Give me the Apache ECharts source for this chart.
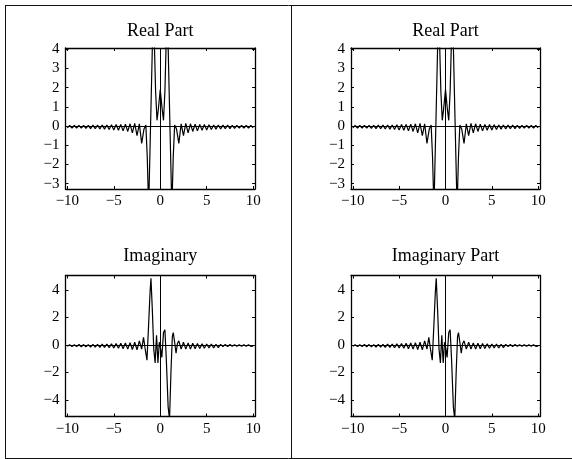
<!DOCTYPE html>
<html>
<head>
<meta charset="utf-8">
<script src="https://cdn.jsdelivr.net/npm/echarts@6/dist/echarts.min.js"></script>
<style>html,body{margin:0;padding:0;background:#fff}#c{width:572px;height:459px}</style>
</head>
<body>
<div id="c"></div>
<script>
// ---- data ----
const realX = [-10,-9.75,-9.5,-9.25,-9,-8.75,-8.5,-8.25,-8,-7.75,-7.5,-7.25,-7,-6.75,-6.5,-6.25,-6,-5.75,-5.5,-5.25,-5,-4.75,-4.5,-4.25,-4,-3.75,-3.5,-3.25,-3,-2.75,-2.5,-2.25,-2,-1.75,-1.55,-1.4,-1.25,-1.1,-0.95,-0.8,-0.65,-0.5,-0.35,-0.2,0,0.2,0.35,0.5,0.65,0.8,0.95,1.1,1.25,1.4,1.55,1.75,2,2.25,2.5,2.75,3,3.25,3.5,3.75,4,4.25,4.5,4.75,5,5.25,5.5,5.75,6,6.25,6.5,6.75,7,7.25,7.5,7.75,8,8.25,8.5,8.75,9,9.25,9.5,9.75,10];
const realY = [-0.09,0.03,-0.1,0.03,-0.1,0.04,-0.11,0.04,-0.12,0.04,-0.13,0.05,-0.14,0.05,-0.15,0.06,-0.16,0.06,-0.18,0.07,-0.2,0.08,-0.22,0.09,-0.25,0.1,-0.28,0.12,-0.35,0.14,-0.5,0.12,-0.9,-0.15,0.05,-1.6,-4.3,-1.2,2.0,5.2,4.6,1.8,0.3,0.9,1.9,0.9,0.3,1.8,4.6,5.2,2.0,-1.2,-4.3,-1.6,0.05,-0.15,-0.9,0.12,-0.5,0.14,-0.35,0.12,-0.28,0.1,-0.25,0.09,-0.22,0.08,-0.2,0.07,-0.18,0.06,-0.16,0.06,-0.15,0.05,-0.14,0.05,-0.13,0.04,-0.12,0.04,-0.11,0.04,-0.1,0.03,-0.1,0.03,-0.09];

const imagX = [-10,-9.75,-9.5,-9.25,-9,-8.75,-8.5,-8.25,-8,-7.75,-7.5,-7.25,-7,-6.75,-6.5,-6.25,-6,-5.75,-5.5,-5.25,-5,-4.75,-4.5,-4.25,-4,-3.75,-3.5,-3.25,-3,-2.75,-2.5,-2.25,-2,-1.8,-1.6,-1.43,-1.25,-1.1,-1,-0.85,-0.7,-0.55,-0.4,-0.25,-0.1,0.05,0.17,0.35,0.5,0.65,0.85,1,1.15,1.3,1.4,1.55,1.7,1.85,2,2.25,2.5,2.75,3,3.25,3.5,3.75,4,4.25,4.5,4.75,5,5.25,5.5,5.75,6,6.25,6.5,6.75,7,7.25,7.5,7.75,8,8.25,8.5,8.75,9,9.25,9.5,9.75,10];
const imagY = [-0.1,0.02,-0.12,0.02,-0.12,0.03,-0.13,0.03,-0.14,0.03,-0.15,0.04,-0.16,0.05,-0.17,0.06,-0.18,0.07,-0.2,0.08,-0.22,0.1,-0.24,0.12,-0.27,0.14,-0.3,0.17,-0.33,0.2,-0.35,0.3,-0.3,0.55,-0.4,-1.1,1.5,3.8,4.85,2.5,-0.3,-1.3,0.7,-1.3,0.2,-0.3,-0.9,0.9,1.1,-1.0,-4.5,-5.4,-2.0,0.6,0.9,0.2,-0.6,0.1,0.3,-0.3,0.2,-0.3,0.15,-0.3,0.12,-0.28,0.1,-0.26,0.08,-0.24,0.07,-0.22,0.06,-0.22,0.05,-0.2,0.04,-0.12,0.03,-0.12,0.03,-0.1,0.02,-0.1,0.02,-0.1,0.02,-0.1,0.02,-0.1,-0.08];

const xTicks = [-10,-5,0,5,10];
const realTicks = [-3,-2,-1,0,1,2,3,4];
const imagTicks = [-4,-2,0,2,4];
const titles = ['Real Part','Real Part','Imaginary','Imaginary Part'];

// ---- build ----
const realData = realX.map((x,i)=>[x, realY[i]]);
const imagData = imagX.map((x,i)=>[x, imagY[i]]);

const FONT = 'Liberation Serif';
const grids = [
  {left:65.5, top:48, width:189.5, height:141},
  {left:351, top:48, width:189, height:141},
  {left:65.5, top:275.5, width:189.5, height:141},
  {left:351, top:275.5, width:189, height:141}
];
const yRanges = [[-3.28,4.07],[-3.28,4.07],[-5.2,5.05],[-5.2,5.05]];
const yTicksAll = [realTicks, realTicks, imagTicks, imagTicks];
const fmt = v => String(v).replace('-', '\u2212');
const lineCol = '#000';

const xAxes = [], yAxes = [], series = [], title = [];
const titlePos = [[160.25,22],[445.5,22],[160.25,247],[445.5,247]];
grids.forEach((g,i)=>{
  ['bottom','top'].forEach(pos=>{
    xAxes.push({
      type:'value', gridIndex:i, position:pos, min:-10.2, max:10.2,
      axisLine:{show:true, onZero:false, lineStyle:{color:lineCol,width:1.3}},
      axisTick:{show:true, inside:true, length:3, customValues:xTicks, lineStyle:{color:lineCol,width:1}},
      axisLabel:{show:pos==='bottom', customValues:xTicks, formatter:fmt, margin:5,
        fontFamily:FONT, fontSize:15, color:'#000'},
      splitLine:{show:false}
    });
  });
  ['left','right'].forEach(pos=>{
    yAxes.push({
      type:'value', gridIndex:i, position:pos, min:yRanges[i][0], max:yRanges[i][1],
      axisLine:{show:true, onZero:false, lineStyle:{color:lineCol,width:1.3}},
      axisTick:{show:true, inside:true, length:3, customValues:yTicksAll[i], lineStyle:{color:lineCol,width:1}},
      axisLabel:{show:pos==='left', customValues:yTicksAll[i], formatter:fmt, margin:6,
        fontFamily:FONT, fontSize:15, color:'#000'},
      splitLine:{show:false}
    });
  });
  series.push({
    type:'line', xAxisIndex:2*i, yAxisIndex:2*i,
    data: i<2 ? realData : imagData,
    showSymbol:false, clip:true, animation:false, silent:true,
    lineStyle:{color:'#000', width:1.2},
    markLine:{silent:true, symbol:['none','none'], animation:false,
      label:{show:false}, lineStyle:{color:'#000', width:1, type:'solid'},
      emphasis:{disabled:true},
      data:[{yAxis:0},{xAxis:0}]}
  });
  title.push({
    text:titles[i], left:titlePos[i][0], top:titlePos[i][1], textAlign:'center', padding:0,
    textStyle:{fontFamily:FONT, fontSize:18, fontWeight:'normal', color:'#000'}
  });
});

const chart = echarts.init(document.getElementById('c'), null, {renderer:'canvas'});
chart.setOption({
  backgroundColor:'#fff',
  animation:false,
  title: title,
  grid: grids,
  xAxis: xAxes,
  yAxis: yAxes,
  series: series,
  graphic: [
    {type:'line', shape:{x1:5,y1:5.5,x2:572,y2:5.5}, style:{stroke:'#111',lineWidth:1}},
    {type:'line', shape:{x1:5.5,y1:5,x2:5.5,y2:458}, style:{stroke:'#111',lineWidth:1}},
    {type:'line', shape:{x1:5,y1:458.5,x2:572,y2:458.5}, style:{stroke:'#111',lineWidth:1}},
    {type:'line', shape:{x1:291.5,y1:5,x2:291.5,y2:458}, style:{stroke:'#111',lineWidth:1}}
  ]
});
</script>
</body>
</html>
